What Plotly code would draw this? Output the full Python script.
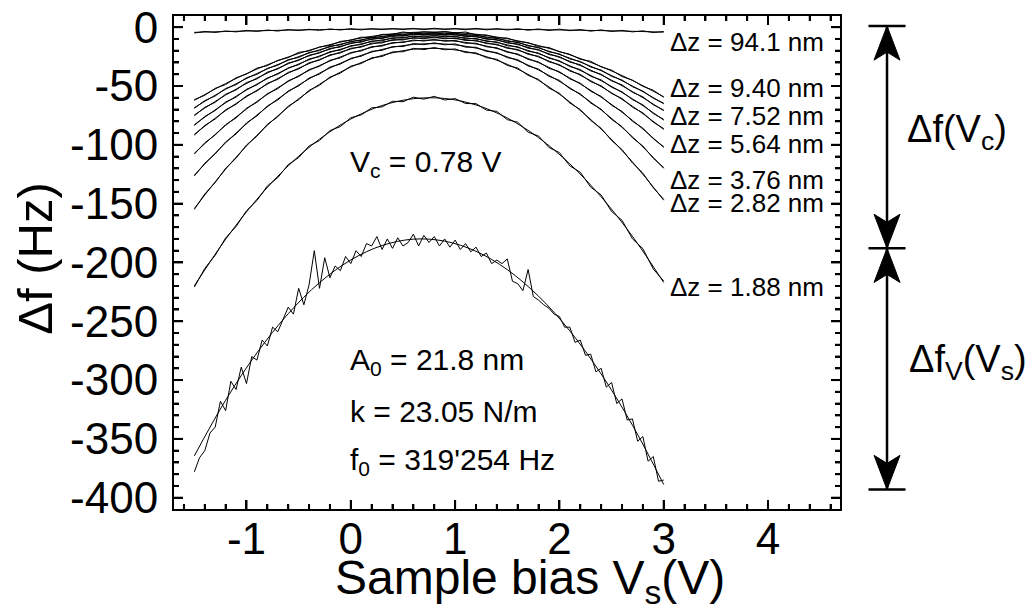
import plotly.graph_objects as go

# ---------------------------------------------------------------------------
# Bias sweeps (V)
# ---------------------------------------------------------------------------
V_DATA = [-1.5, -1.4, -1.3, -1.2, -1.1, -1.0, -0.9, -0.8, -0.7, -0.6,
          -0.5, -0.4, -0.3, -0.2, -0.1, 0.0, 0.1, 0.2, 0.3, 0.4,
          0.5, 0.6, 0.7, 0.8, 0.9, 1.0, 1.1, 1.2, 1.3, 1.4,
          1.5, 1.6, 1.7, 1.8, 1.9, 2.0, 2.1, 2.2, 2.3, 2.4,
          2.5, 2.6, 2.7, 2.8, 2.9, 3.0]

V_FINE = [-1.5, -1.45, -1.4, -1.35, -1.3, -1.25, -1.2, -1.15, -1.1, -1.05,
          -1.0, -0.95, -0.9, -0.85, -0.8, -0.75, -0.7, -0.65, -0.6, -0.55,
          -0.5, -0.45, -0.4, -0.35, -0.3, -0.25, -0.2, -0.15, -0.1, -0.05,
          0.0, 0.05, 0.1, 0.15, 0.2, 0.25, 0.3, 0.35, 0.4, 0.45,
          0.5, 0.55, 0.6, 0.65, 0.7, 0.75, 0.8, 0.85, 0.9, 0.95,
          1.0, 1.05, 1.1, 1.15, 1.2, 1.25, 1.3, 1.35, 1.4, 1.45,
          1.5, 1.55, 1.6, 1.65, 1.7, 1.75, 1.8, 1.85, 1.9, 1.95,
          2.0, 2.05, 2.1, 2.15, 2.2, 2.25, 2.3, 2.35, 2.4, 2.45,
          2.5, 2.55, 2.6, 2.65, 2.7, 2.75, 2.8, 2.85, 2.9, 2.95, 3.0]

V_FIT = [-1.5, -1.2, -0.9, -0.6, -0.3, 0.0, 0.3, 0.6, 0.9, 1.2,
         1.5, 1.8, 2.1, 2.4, 2.7, 3.0]

# ---------------------------------------------------------------------------
# Measured frequency shift (Hz) for each tip-sample distance
# ---------------------------------------------------------------------------
DF_94_1 = [-5.0, -3.6, -4.5, -3.2, -4.0, -2.7, -3.6, -2.4, -3.3, -2.0,
           -2.9, -1.8, -2.7, -1.5, -2.4, -1.3, -2.3, -1.2, -2.1, -1.1,
           -2.0, -1.0, -2.1, -0.9, -2.0, -1.1, -2.2, -1.0, -2.3, -1.2,
           -2.4, -1.3, -2.6, -1.5, -2.8, -1.7, -3.0, -2.0, -3.4, -2.3,
           -3.7, -2.7, -4.0, -3.1, -4.6, -3.7]
DF_9_40 = [-61.6, -57.9, -52.0, -48.8, -43.0, -39.9, -34.8, -32.7, -28.2, -25.9,
           -21.4, -20.2, -16.8, -15.6, -12.1, -11.1, -8.5, -8.8, -6.1, -6.1,
           -4.1, -5.0, -3.9, -4.7, -3.6, -4.9, -4.1, -6.5, -6.6, -9.1,
           -9.2, -12.2, -13.1, -16.5, -17.3, -20.9, -23.0, -27.3, -29.0, -33.8,
           -36.5, -42.0, -45.0, -50.3, -53.6, -59.6]
DF_8_46 = [-69.0, -62.4, -58.5, -52.1, -48.9, -43.0, -40.1, -35.0, -32.4, -27.6,
           -25.8, -21.5, -19.9, -16.2, -15.1, -12.0, -11.3, -8.6, -8.4, -6.3,
           -6.7, -4.9, -5.8, -4.6, -5.9, -5.1, -6.9, -6.6, -9.0, -9.2,
           -12.0, -12.7, -16.0, -17.1, -21.0, -22.7, -27.0, -29.1, -33.9, -36.4,
           -41.8, -44.9, -50.6, -54.3, -60.4, -64.6]
DF_7_52 = [-75.3, -68.1, -63.9, -57.0, -53.4, -47.1, -44.0, -38.2, -35.6, -30.4,
           -28.3, -23.8, -22.0, -18.0, -16.9, -13.3, -12.8, -9.8, -9.7, -7.2,
           -7.6, -5.9, -6.8, -5.5, -6.9, -6.0, -8.0, -7.7, -10.3, -10.5,
           -13.5, -14.2, -17.9, -19.0, -23.3, -25.0, -29.7, -31.9, -37.2, -40.0,
           -45.7, -49.0, -55.4, -59.2, -66.0, -70.4]
DF_6_58 = [-83.6, -75.9, -70.9, -63.6, -59.5, -52.8, -49.0, -43.1, -40.0, -34.6,
           -31.9, -27.0, -25.1, -20.8, -19.5, -15.7, -14.8, -11.7, -11.6, -9.0,
           -9.3, -7.4, -8.4, -6.9, -8.3, -7.6, -9.8, -9.5, -12.1, -12.5,
           -15.8, -16.6, -20.5, -21.9, -26.4, -28.5, -33.5, -36.0, -41.8, -44.8,
           -51.1, -54.9, -61.6, -66.0, -73.4, -78.4]
DF_5_64 = [-91.8, -83.5, -78.1, -70.2, -65.6, -58.4, -54.3, -47.7, -44.4, -38.4,
           -35.6, -30.2, -28.1, -23.5, -22.0, -17.9, -17.0, -13.6, -13.4, -10.6,
           -10.9, -8.8, -9.8, -8.4, -9.9, -9.1, -11.4, -11.1, -14.0, -14.5,
           -18.0, -18.9, -23.1, -24.7, -29.5, -31.8, -37.3, -40.1, -46.3, -49.8,
           -56.4, -60.6, -68.0, -72.8, -80.8, -86.2]
DF_4_70 = [-107.9, -98.3, -91.7, -82.8, -77.2, -68.9, -63.9, -56.5, -52.3, -45.5,
           -42.0, -36.0, -33.3, -28.1, -26.1, -21.5, -20.2, -16.5, -16.1, -13.0,
           -13.1, -10.9, -11.8, -10.4, -12.0, -11.2, -13.7, -13.6, -16.7, -17.5,
           -21.4, -22.7, -27.4, -29.5, -35.0, -37.8, -44.0, -47.6, -54.5, -58.8,
           -66.4, -71.6, -80.0, -85.8, -94.9, -101.6]
DF_3_76 = [-126.5, -115.6, -107.8, -97.6, -90.8, -81.4, -75.5, -67.0, -61.9, -54.2,
           -50.0, -43.2, -39.9, -33.9, -31.4, -26.4, -24.7, -20.5, -19.7, -16.4,
           -16.5, -13.9, -14.9, -13.3, -15.0, -14.2, -17.0, -17.1, -20.6, -21.6,
           -25.9, -27.6, -33.0, -35.6, -41.8, -45.2, -52.3, -56.6, -64.5, -69.7,
           -78.4, -84.5, -94.0, -101.0, -111.4, -119.3]
DF_2_82 = [-154.9, -141.8, -132.1, -119.9, -111.4, -100.2, -92.7, -82.6, -76.2, -67.1,
           -61.7, -53.7, -49.4, -42.4, -39.1, -33.1, -30.9, -26.0, -24.9, -21.0,
           -20.9, -18.0, -19.1, -17.3, -19.2, -18.5, -21.6, -21.8, -25.9, -27.3,
           -32.5, -34.7, -41.0, -44.4, -51.8, -56.2, -64.5, -70.0, -79.3, -85.9,
           -96.3, -104.0, -115.4, -124.1, -136.5, -146.4]
DF_1_88 = [-221.0, -205.1, -193.9, -179.2, -169.5, -156.1, -147.4, -135.0, -127.9, -116.8,
           -110.9, -101.0, -96.4, -87.9, -84.5, -77.0, -74.6, -68.6, -67.8, -63.0,
           -63.4, -59.5, -61.2, -58.8, -61.9, -60.7, -64.9, -65.0, -70.5, -71.6,
           -78.6, -80.8, -89.3, -92.5, -102.3, -106.6, -117.9, -123.3, -136.0, -142.6,
           -156.7, -164.1, -179.9, -188.3, -205.6, -215.8]
DF_0_94 = [-378, -366, -360, -345, -340, -318, -326, -301, -308, -289,
           -303, -280, -283, -266, -271, -255, -259, -249, -238, -244,
           -222, -236, -219, -190, -222, -196, -213, -203, -207, -195,
           -201, -190, -195, -184, -186, -178, -189, -180, -188, -179,
           -186, -183, -176, -186, -177, -183, -178, -186, -180, -187,
           -181, -189, -184, -191, -187, -195, -192, -201, -198, -201,
           -197, -216, -218, -224, -206, -229, -232, -236, -239, -244,
           -246, -255, -255, -268, -266, -279, -278, -293, -290, -306,
           -302, -320, -316, -334, -333, -352, -348, -369, -365, -386, -385]

# ---------------------------------------------------------------------------
# Parabolic fits (Hz) sampled on V_FIT
# ---------------------------------------------------------------------------
FIT_94_1 = [-4.4, -3.7, -3.1, -2.5, -2.1, -1.8, -1.6, -1.5, -1.5, -1.6,
            -1.8, -2.1, -2.5, -2.9, -3.5, -4.2]
FIT_9_40 = [-62.2, -47.9, -35.6, -25.3, -17.1, -10.8, -6.6, -4.4, -4.2, -6.0,
            -9.8, -15.6, -23.5, -33.4, -45.3, -59.2]
FIT_8_46 = [-68.4, -52.8, -39.4, -28.2, -19.2, -12.4, -7.8, -5.4, -5.2, -7.1,
            -11.3, -17.7, -26.3, -37.0, -50.0, -65.1]
FIT_7_52 = [-74.6, -57.7, -43.3, -31.1, -21.4, -14.0, -9.0, -6.4, -6.2, -8.3,
            -12.8, -19.7, -29.0, -40.6, -54.7, -71.0]
FIT_6_58 = [-82.9, -64.3, -48.4, -35.1, -24.4, -16.3, -10.8, -8.0, -7.7, -10.1,
            -15.0, -22.6, -32.8, -45.5, -60.9, -79.0]
FIT_5_64 = [-91.1, -70.9, -53.6, -39.1, -27.4, -18.6, -12.6, -9.5, -9.2, -11.8,
            -17.2, -25.4, -36.5, -50.5, -67.2, -86.9]
FIT_4_70 = [-107.2, -83.5, -63.2, -46.2, -32.6, -22.2, -15.3, -11.6, -11.3, -14.3,
            -20.6, -30.2, -43.2, -59.5, -79.2, -102.2]
FIT_3_76 = [-125.8, -98.3, -74.7, -54.9, -39.1, -27.1, -18.9, -14.7, -14.3, -17.8,
            -25.1, -36.4, -51.5, -70.4, -93.2, -120.0]
FIT_2_82 = [-154.2, -120.7, -91.9, -67.9, -48.5, -33.9, -24.0, -18.8, -18.4, -22.6,
            -31.6, -45.2, -63.6, -86.7, -114.6, -147.1]
FIT_1_88 = [-219.9, -180.3, -146.3, -117.9, -95.2, -78.1, -66.6, -60.8, -60.6, -66.1,
            -77.2, -93.9, -116.2, -144.2, -177.8, -217.1]
FIT_0_94 = [-364.4, -317.1, -276.9, -243.6, -217.2, -197.9, -185.6, -180.2, -181.9, -190.5,
            -206.1, -228.7, -258.2, -294.8, -338.3, -388.8]

# distance labels shown next to the right-hand ends of the curves
DZ_LABELS = ["94.1", "9.40", "7.52", "5.64", "3.76", "2.82", "1.88"]

# axis ticks
X_TICKS = [-1, 0, 1, 2, 3, 4]
X_TICK_LABELS = ["-1", "0", "1", "2", "3", "4"]
Y_TICKS = [-400, -350, -300, -250, -200, -150, -100, -50, 0]
Y_TICK_LABELS = ["-400", "-350", "-300", "-250", "-200", "-150", "-100", "-50", "0"]

# levels marked by the bracket on the right (Hz)
BRACKET_LEVELS = [1, -188, -393]

FONT = "Liberation Sans, Arial, Helvetica, sans-serif"

# plot-area size in px (used to express tick lengths in paper units)
PLOT_W, PLOT_H = 666, 493
X_RANGE = [-1.695, 4.69]
Y_RANGE = [-409.6, 9.5]

measured = [
    (V_DATA, DF_94_1), (V_DATA, DF_9_40), (V_DATA, DF_8_46), (V_DATA, DF_7_52),
    (V_DATA, DF_6_58), (V_DATA, DF_5_64), (V_DATA, DF_4_70), (V_DATA, DF_3_76),
    (V_DATA, DF_2_82), (V_DATA, DF_1_88), (V_FINE, DF_0_94),
]
fits = [FIT_94_1, FIT_9_40, FIT_8_46, FIT_7_52, FIT_6_58, FIT_5_64,
        FIT_4_70, FIT_3_76, FIT_2_82, FIT_1_88, FIT_0_94]

fig = go.Figure()
for xs, ys in measured:
    fig.add_trace(go.Scatter(x=xs, y=ys, mode="lines",
                             line=dict(color="black", width=1),
                             hoverinfo="skip"))
for ys in fits:
    fig.add_trace(go.Scatter(x=V_FIT, y=ys, mode="lines",
                             line=dict(color="black", width=1, shape="spline"),
                             hoverinfo="skip"))

# Axes: frame on all sides, inward major + minor ticks mirrored to top/right
axis_common = dict(
    showline=True, linewidth=2, linecolor="black", mirror="allticks",
    ticks="inside", ticklen=9, tickwidth=2, tickcolor="black",
    showgrid=False, zeroline=False, automargin=False,
    tickfont=dict(size=44, family=FONT, color="black"),
)
fig.update_xaxes(range=X_RANGE, tickmode="array", tickvals=X_TICKS,
                 ticktext=X_TICK_LABELS, ticklabelstandoff=-10,
                 minor=dict(tickmode="linear", tick0=0, dtick=0.2, ticks="inside",
                            ticklen=5, tickwidth=2, tickcolor="black", showgrid=False),
                 **axis_common)
fig.update_yaxes(range=Y_RANGE, tickmode="array", tickvals=Y_TICKS,
                 ticktext=Y_TICK_LABELS, ticklabelstandoff=5,
                 minor=dict(tickmode="linear", tick0=0, dtick=10, ticks="inside",
                            ticklen=5, tickwidth=2, tickcolor="black", showgrid=False),
                 **axis_common)

# The same inward ticks drawn as shapes above the traces
MAJOR_LEN, MINOR_LEN = 9, 5
tick_line = dict(color="black", width=2)
shapes = []

x_minor = [round(i * 0.2, 1) for i in range(-8, 24)]
x_minor = [v for v in x_minor if X_RANGE[0] < v < X_RANGE[1] and abs(v - round(v)) > 1e-9]
for v, ln in [(t, MAJOR_LEN) for t in X_TICKS] + [(t, MINOR_LEN) for t in x_minor]:
    h = ln / PLOT_H
    shapes.append(dict(type="line", xref="x", yref="paper", x0=v, x1=v, y0=0, y1=h,
                       line=tick_line, layer="above"))
    shapes.append(dict(type="line", xref="x", yref="paper", x0=v, x1=v, y0=1, y1=1 - h,
                       line=tick_line, layer="above"))

y_minor = [i * 10 for i in range(-40, 1) if i % 5 != 0]
for v, ln in [(t, MAJOR_LEN) for t in Y_TICKS] + [(t, MINOR_LEN) for t in y_minor]:
    w = ln / PLOT_W
    shapes.append(dict(type="line", xref="paper", yref="y", x0=0, x1=w, y0=v, y1=v,
                       line=tick_line, layer="above"))
    shapes.append(dict(type="line", xref="paper", yref="y", x0=1, x1=1 - w, y0=v, y1=v,
                       line=tick_line, layer="above"))

# ---------------------------------------------------------------------------
# Text
# ---------------------------------------------------------------------------
annotations = []

annotations.append(dict(text="Sample bias V<sub>s</sub>(V)", xref="paper", yref="paper",
                        x=0.5345, y=-0.146, xanchor="center", yanchor="middle",
                        showarrow=False, font=dict(size=48, family=FONT, color="black")))
annotations.append(dict(text="\u0394f (Hz)", xref="paper", yref="paper",
                        x=-0.21, y=0.508, xanchor="center", yanchor="middle", textangle=-90,
                        showarrow=False, font=dict(size=49, family=FONT, color="black")))

label_y = [-13.0, -52.1, -75.9, -98.9, -130.3, -149.1, -221.0]
for dz, yv in zip(DZ_LABELS, label_y):
    annotations.append(dict(text=f"\u0394z = {dz} nm", x=3.045, y=yv, xref="x", yref="y",
                            xanchor="left", yanchor="middle", showarrow=False,
                            font=dict(size=26, family=FONT, color="black")))

param_texts = [
    ("V<sub>c</sub> = 0.78 V", -116.3),
    ("A<sub>0</sub> = 21.8 nm", -284.0),
    ("k = 23.05 N/m", -326.4),
    ("f<sub>0</sub> = 319'254 Hz", -369.0),
]
for txt, yv in param_texts:
    annotations.append(dict(text=txt, x=-0.03, y=yv, xref="x", yref="y",
                            xanchor="left", yanchor="middle", showarrow=False,
                            font=dict(size=30, family=FONT, color="black")))

annotations.append(dict(text="\u0394f(V<sub>c</sub>)", xref="paper", yref="y",
                        x=1.0976, y=-89.0, xanchor="left", yanchor="middle", showarrow=False,
                        font=dict(size=38, family=FONT, color="black")))
annotations.append(dict(text="\u0394f<sub>V</sub>(V<sub>s</sub>)", xref="paper", yref="y",
                        x=1.101, y=-284.7, xanchor="left", yanchor="middle", showarrow=False,
                        font=dict(size=38, family=FONT, color="black")))

# ---------------------------------------------------------------------------
# Bracket on the right: vertical line, end bars and arrowheads
# ---------------------------------------------------------------------------
xc = 1.0706
half_bar = 0.0278
hw = 0.0195
head_len = 29.0
notch = 6.8
shapes.append(dict(type="line", xref="paper", yref="y", x0=xc, x1=xc,
                   y0=BRACKET_LEVELS[0], y1=BRACKET_LEVELS[-1],
                   line=dict(color="black", width=2.5)))
for lvl in BRACKET_LEVELS:
    shapes.append(dict(type="line", xref="paper", yref="y", x0=xc - half_bar, x1=xc + half_bar,
                       y0=lvl, y1=lvl, line=dict(color="black", width=2.5)))


def head(tip, direction):
    # direction = +1 points upward, -1 points downward
    base = tip - direction * head_len
    mid = base + direction * notch
    return dict(type="path", xref="paper", yref="y",
                path=f"M {xc},{tip} L {xc + hw},{base} L {xc},{mid} L {xc - hw},{base} Z",
                fillcolor="black", line=dict(color="black", width=1))


shapes.append(head(BRACKET_LEVELS[0], +1))
shapes.append(head(BRACKET_LEVELS[1], -1))
shapes.append(head(BRACKET_LEVELS[1], +1))
shapes.append(head(BRACKET_LEVELS[2], -1))

fig.update_layout(
    width=1032, height=608,
    margin=dict(l=174, r=192, t=16, b=99, autoexpand=False),
    paper_bgcolor="white", plot_bgcolor="white",
    showlegend=False,
    font=dict(family=FONT, color="black"),
    annotations=annotations,
    shapes=shapes,
)

fig.write_html("out.html")
